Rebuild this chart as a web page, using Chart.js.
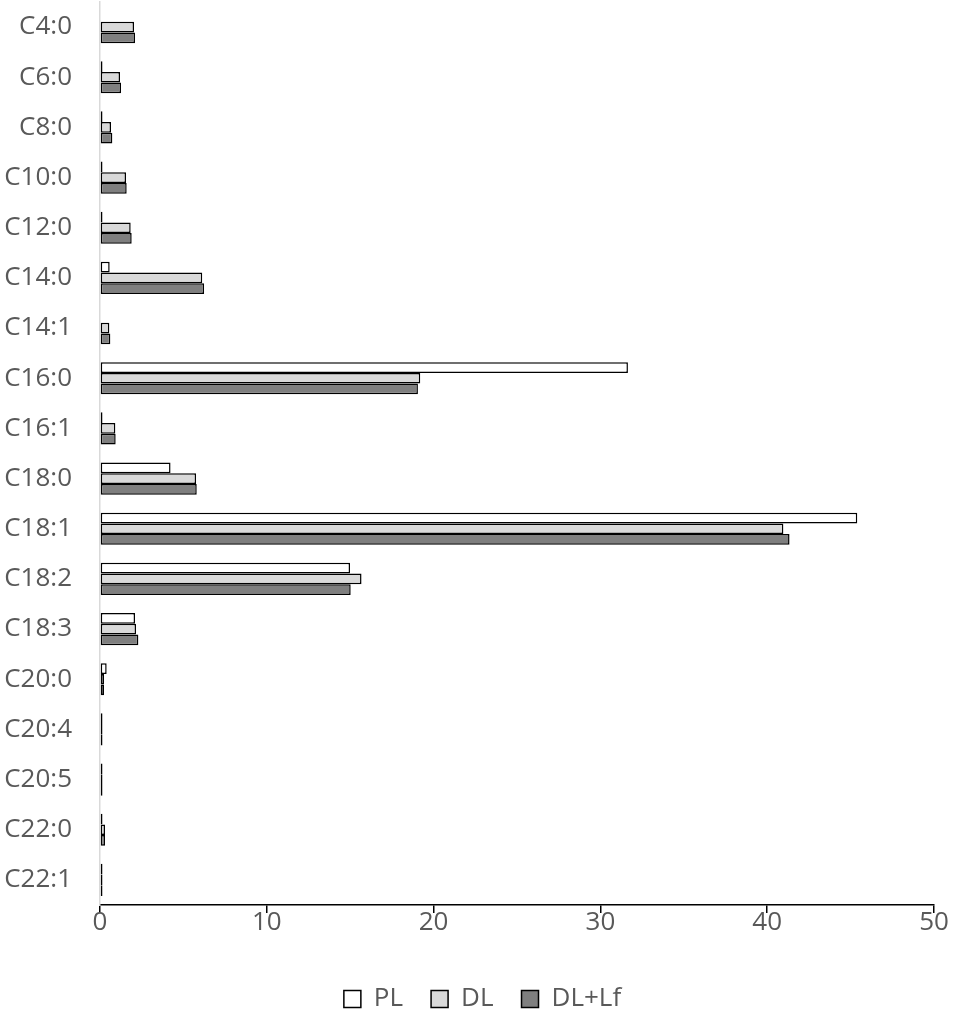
<!DOCTYPE html>
<html>
<head>
<meta charset="utf-8">
<script src="https://cdn.jsdelivr.net/npm/chart.js@4/dist/chart.umd.min.js"></script>
<style>
  html, body { margin: 0; padding: 0; background: #fff; }
  #wrap { width: 957px; height: 1019px; }
</style>
</head>
<body>
<div id="wrap"><canvas id="myChart" width="957" height="1019"></canvas></div>
<script>
var categories = ['C4:0', 'C6:0', 'C8:0', 'C10:0', 'C12:0', 'C14:0', 'C14:1', 'C16:0', 'C16:1',
                  'C18:0', 'C18:1', 'C18:2', 'C18:3', 'C20:0', 'C20:4', 'C20:5', 'C22:0', 'C22:1'];
var plValues   = [null, 0.02, 0.05, 0.03, 0.12, 0.58, null, 31.65, 0.1, 4.23, 45.4, 14.99, 2.1, 0.4, 0.04, 0.03, 0.1, 0.03];
var dlValues   = [2.04, 1.2, 0.66, 1.56, 1.84, 6.13, 0.56, 19.2, 0.92, 5.76, 40.97, 15.68, 2.16, 0.24, 0.04, 0.03, 0.3, 0.03];
var dllfValues = [2.1, 1.26, 0.74, 1.6, 1.9, 6.24, 0.62, 19.06, 0.94, 5.8, 41.34, 15.03, 2.3, 0.24, 0.04, 0.03, 0.3, 0.03];
var xTicks = [0, 10, 20, 30, 40, 50];

var fontFamily = '"Open Sans", "Noto Sans", sans-serif';
var textColor = '#595959';

function barSet(label, data, fill) {
    return {
        label: label,
        data: data,
        backgroundColor: fill,
        borderColor: '#000000',
        borderWidth: 1.5,
        borderSkipped: false,
        minBarLength: 2.5,
        barPercentage: 1.0,
        categoryPercentage: 0.64
    };
}

document.addEventListener("DOMContentLoaded", function () {
    var ctx = document.getElementById('myChart').getContext('2d');
    var myChart = new Chart(ctx, {
        type: 'bar',
        data: {
            labels: categories,
            datasets: [
                barSet('PL', plValues, '#ffffff'),
                barSet('DL', dlValues, '#d9d9d9'),
                barSet('DL+Lf', dllfValues, '#7f7f7f')
            ]
        },
        options: {
            indexAxis: 'y',
            responsive: false,
            animation: false,
            layout: { padding: { top: 2, right: -8, left: 0, bottom: -3 } },
            plugins: {
                tooltip: { enabled: false },
                legend: {
                    position: 'bottom',
                    labels: {
                        color: textColor,
                        font: { family: fontFamily, size: 26 },
                        boxWidth: 17,
                        boxHeight: 17,
                        padding: 28,
                        generateLabels: function (chart) {
                            return chart.data.datasets.map(function (ds, i) {
                                return {
                                    text: ds.label,
                                    fillStyle: ds.backgroundColor,
                                    strokeStyle: '#000000',
                                    lineWidth: 1.5,
                                    fontColor: textColor,
                                    datasetIndex: i
                                };
                            });
                        }
                    }
                }
            },
            scales: {
                x: {
                    min: 0,
                    max: 50,
                    afterBuildTicks: function (scale) {
                        scale.ticks = xTicks.map(function (v) { return { value: v }; });
                    },
                    afterFit: function (scale) {
                        scale.height = 53;
                        scale.paddingRight = 23;
                    },
                    ticks: {
                        color: textColor,
                        font: { family: fontFamily, size: 26 },
                        padding: -6
                    },
                    grid: {
                        drawOnChartArea: false,
                        drawTicks: true,
                        tickLength: 8,
                        color: '#000000',
                        lineWidth: 1.5
                    },
                    border: { display: true, color: '#000000', width: 1.5 }
                },
                y: {
                    afterFit: function (scale) {
                        scale.width = 100;
                        scale.paddingTop = 0;
                        scale.paddingBottom = 0;
                    },
                    ticks: {
                        color: textColor,
                        font: { family: fontFamily, size: 26 },
                        padding: 28
                    },
                    grid: { display: false, drawTicks: false },
                    border: { display: true, color: '#d9d9d9', width: 1.5 }
                }
            }
        }
    });
});
</script>
</body>
</html>
